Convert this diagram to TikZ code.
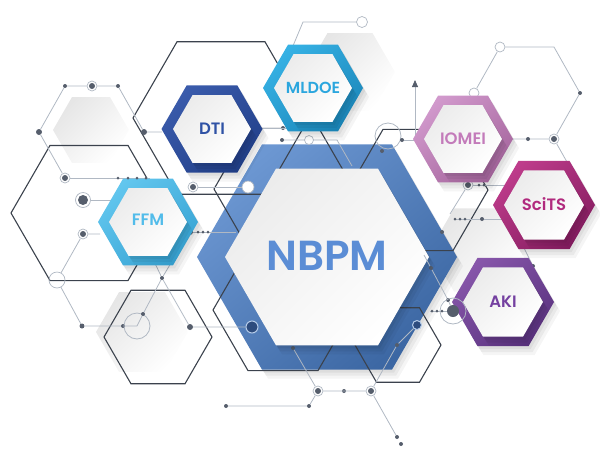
\documentclass[tikz,border=0pt]{standalone}
\usepackage{fontspec}
\setmainfont{Poppins}[BoldFont={* SemiBold}]
\usetikzlibrary{shapes.geometric,arrows.meta,shadows}
\definecolor{linegray}{HTML}{3B424D}
\definecolor{wiregray}{HTML}{B0B8C3}
\definecolor{dotgray}{HTML}{565E6C}
\definecolor{navy}{HTML}{2D4C7E}
\definecolor{nbpmA}{HTML}{6C97D2}
\definecolor{nbpmB}{HTML}{3C67A3}
\definecolor{nbpmT}{HTML}{5B8DD5}
\definecolor{dtiA}{HTML}{3A5BAB}
\definecolor{dtiB}{HTML}{22408A}
\definecolor{dtiT}{HTML}{2F52A5}
\definecolor{mldoeA}{HTML}{36B1E4}
\definecolor{mldoeB}{HTML}{1C88BB}
\definecolor{mldoeT}{HTML}{2BA6DE}
\definecolor{ffmA}{HTML}{62C6EE}
\definecolor{ffmB}{HTML}{38A4D4}
\definecolor{ffmT}{HTML}{52BCEA}
\definecolor{iomeiA}{HTML}{D199CC}
\definecolor{iomeiB}{HTML}{A5659D}
\definecolor{iomeiT}{HTML}{C37BBA}
\definecolor{scitsA}{HTML}{BE3C8B}
\definecolor{scitsB}{HTML}{861D61}
\definecolor{scitsT}{HTML}{B12A7E}
\definecolor{akiA}{HTML}{8756AA}
\definecolor{akiB}{HTML}{5B3380}
\definecolor{akiT}{HTML}{7440A0}
\begin{document}
\begin{tikzpicture}[x=1pt, y=-1pt]
\tikzstyle{hexa} = [regular polygon, regular polygon sides=6, inner sep=0pt, outer sep=0pt]
\tikzstyle{outline} = [hexa, draw=linegray, line width=1.1pt]
\tikzstyle{pale} = [hexa, top color=gray!20, bottom color=white, shading angle=45]
\tikzstyle{soft} = [general shadow={fill=black, opacity=.05, shadow xshift=2pt, shadow yshift=-3pt}, general shadow={fill=black, opacity=.05, shadow xshift=4pt, shadow yshift=-6pt}, general shadow={fill=black, opacity=.04, shadow xshift=6pt, shadow yshift=-9pt}]
\tikzstyle{face} = [hexa, top color=gray!15, bottom color=white, shading angle=45, soft]
\tikzstyle{wire} = [draw=wiregray, line width=.8pt]
\tikzstyle{dot} = [circle, fill=dotgray, inner sep=0pt, minimum size=4pt]
\tikzstyle{tiny} = [circle, fill=dotgray, inner sep=0pt, minimum size=3pt]
\tikzstyle{ringdot} = [circle, draw=wiregray, fill=white, line width=.7pt, inner sep=0pt, minimum size=10pt, path picture={\fill[dotgray] (path picture bounding box.center) circle (3pt);}]
\tikzstyle{opencirc} = [circle, draw=wiregray, fill=white, line width=.7pt, inner sep=0pt, minimum size=9pt]
\tikzstyle{bigcirc} = [circle, draw=wiregray, line width=.8pt, inner sep=0pt, minimum size=26pt]
\tikzstyle{navydot} = [circle, fill=navy, draw=nbpmA!50!white, line width=1pt, inner sep=0pt, minimum size=12pt]
\tikzstyle{lbl} = [font=\bfseries\fontsize{16.5}{18}\selectfont]
\useasboundingbox (0,0) rectangle (600,456);

\node[pale, minimum size=76pt] (p1) at (91,130) {};
\node[pale, minimum size=92pt] (p2) at (142,332) {};
\node[pale, minimum size=90pt] (p3) at (350,72) {};
\node[pale, minimum size=96pt] (p4) at (478,250) {};

\node[hexa, minimum size=260pt, top color=nbpmA, bottom color=nbpmB, shading angle=40, soft] (nbpm) at (327,257) {};

\node[outline, minimum size=176pt] (hA) at (221,118) {};
\node[outline, minimum size=156pt] (hB) at (89,213) {};
\node[outline, minimum size=108pt] (hC) at (158,337) {};
\node[outline, minimum size=140pt] (hD) at (283,310) {};
\node[outline, minimum size=140pt] (hG) at (284,189) {};
\node[outline, minimum size=140pt] (hH) at (418,190) {};
\node[outline, minimum size=86pt] (hE) at (398,345) {};

\node[dot] (l1) at (65,86) {};
\node[ringdot] (l2) at (92,86) {};
\node[dot] (l3) at (118,86) {};
\node[dot, minimum size=6pt] (l4) at (39,132) {};
\node[dot, minimum size=6pt] (l5) at (144,132) {};
\node[ringdot] (l6) at (65,178) {};
\coordinate (l7) at (162,132);
\coordinate (l8) at (150,178);
\draw[wire] (l6) -- (l4) -- (l1) -- (l2) -- (l3) -- (l5) -- (l7);
\draw[wire] (l6) -- (l8);
\node[ringdot, minimum size=15pt, path picture={\fill[dotgray] (path picture bounding box.center) circle (5pt);}] (l9) at (83,200) {};
\node[opencirc] (l10) at (117,200) {};
\draw[wire] (l9) -- (l10);
\node[ringdot] (l11) at (83,234) {};
\coordinate (l12) at (100,234);
\node[opencirc, fill=none, minimum size=16pt] (l13) at (57,280) {};
\node[dot, minimum size=5pt] (l14) at (82,326) {};
\node[dot] (l15) at (123,326) {};
\node[bigcirc] (l16) at (137,326) {};
\draw[wire] (l12) -- (l11) -- (l13) -- (l14) -- (l15) -- (l16.center);
\coordinate (l17) at (151,255);
\coordinate (l18) at (177,253);
\node[dot] (l19) at (162,278) {};
\node[dot] (l20) at (143,314) {};
\node[dot, minimum size=6pt] (l21) at (190,327) {};
\node[navydot] (l22) at (252,327) {};
\draw[wire] (l17) -- (l19) -- (l21) -- (l22);
\draw[wire] (l18) -- (l19) -- (l20) -- (l16.center);
\node[dot, minimum size=6pt] (l23) at (190,232) {};
\coordinate (l24) at (236,232);
\draw[wire] (l23) -- (l24);
\foreach \x in {198,203,208} \node[tiny] (t\x) at (\x,232) {};

\node[ringdot] (m1) at (193,187) {};
\node[opencirc, minimum size=12pt] (m2) at (248,187) {};
\draw[wire] (m1) -- (m2);
\coordinate (m3) at (262,128);
\coordinate (m4) at (300,128);
\node[dot] (m5) at (283,128) {};
\draw[wire] (m3) -- (m4);
\node[dot] (m6) at (282,140) {};
\node[opencirc] (m7) at (309,140) {};
\coordinate (m8) at (337,140);
\coordinate (m9) at (352,166);
\draw[wire] (m6) -- (m7) -- (m8) -- (m9);
\coordinate (m10) at (272,96);
\coordinate (m11) at (303,22);
\node[opencirc, minimum size=11pt] (m12) at (362,22) {};
\draw[wire] (m10) -- (m11) -- (m12);
\coordinate (m14) at (415,138);
\coordinate (m15) at (415,80);
\draw[wire, -{Triangle[length=7pt, width=6pt, color=dotgray]}] (m14) -- (m15);
\node[bigcirc] (m16) at (388,136) {};
\node[dot] (m17) at (402,140) {};
\coordinate (m18) at (414,140);
\draw[wire] (m17) -- (m18);
\node[dot] (m19) at (382,151) {};

\node[opencirc, minimum size=10pt] (r1) at (500,47) {};
\node[dot] (r2) at (580,93) {};
\node[ringdot] (r3) at (554,139) {};
\node[dot] (r4) at (528,139) {};
\node[opencirc, minimum size=10pt] (r5) at (474,93) {};
\coordinate (r6) at (554,47);
\coordinate (r7) at (510,139);
\coordinate (r8) at (464,110);
\draw[wire] (r8) -- (r5) -- (r1) -- (r6) -- (r2) -- (r3) -- (r4) -- (r7);
\node[dot] (r9) at (580,185) {};
\node[dot] (r10) at (584,192) {};
\draw[wire] (r3) -- (r9);
\node[ringdot] (r11) at (468,185) {};
\coordinate (r12) at (506,185);
\coordinate (r13) at (450,214);
\draw[wire] (r11) -- (r12);
\draw[wire] (r11) -- (r13);
\foreach \x in {479,484} \node[tiny] (u\x) at (\x,185) {};
\coordinate (r16) at (455,219);
\node[dot] (r14) at (482,219) {};
\coordinate (r15) at (512,219);
\draw[wire] (r16) -- (r14) -- (r15);
\foreach \x in {455,460,465} \node[tiny] (v\x) at (\x,219) {};
\coordinate (r18) at (522,244);
\node[dot] (r17) at (533,266) {};
\draw[wire] (r18) -- (r17);
\coordinate (r21) at (424,255);
\node[dot] (r20) at (431,268) {};
\node[dot] (r19) at (448,300) {};
\node[dot] (r22) at (442,232) {};

\node[dot] (b1) at (226,406) {};
\node[dot] (b2) at (309,406) {};
\node[ringdot] (b3) at (318,391) {};
\node[dot] (b4) at (344,391) {};
\node[ringdot] (b5) at (371,391) {};
\node[dot] (b6) at (293,348) {};
\node[dot] (b7) at (397,345) {};
\node[navydot, minimum size=9pt] (b8) at (417,325) {};
\node[dot] (b9) at (397,437) {};
\node[dot] (b10) at (401,444) {};
\draw[wire] (b1) -- (b2) -- (b3) -- (b5);
\draw[wire] (b3) -- (b6);
\draw[wire] (b5) -- (b7) -- (b8);
\draw[wire] (b5) -- (b9);

\node[hexa, minimum size=101pt, top color=dtiA, bottom color=dtiB, shading angle=40, soft] (dti) at (212,129) {};
\node[face, minimum size=78pt] (dti-in) at (212,129) {};
\node[hexa, minimum size=100pt, top color=mldoeA, bottom color=mldoeB, shading angle=40, soft] (mldoe) at (313,88) {};
\node[face, minimum size=78pt] (mldoe-in) at (313,88) {};
\node[hexa, minimum size=100pt, top color=ffmA, bottom color=ffmB, shading angle=40, soft] (ffm) at (148,222) {};
\node[face, minimum size=78pt] (ffm-in) at (148,222) {};
\node[hexa, minimum size=100pt, top color=iomeiA, bottom color=iomeiB, shading angle=40, soft] (iomei) at (463,139) {};
\node[face, minimum size=78pt] (iomei-in) at (463,139) {};
\node[hexa, minimum size=102pt, top color=scitsA, bottom color=scitsB, shading angle=40, soft] (scits) at (544,205) {};
\node[face, minimum size=80pt] (scits-in) at (544,205) {};
\node[hexa, minimum size=102pt, top color=akiA, bottom color=akiB, shading angle=40, soft] (aki) at (503,302) {};
\node[face, minimum size=80pt] (aki-in) at (503,302) {};
\node[face, minimum size=204pt] (nbpm-in) at (327,257) {};

\foreach \x in {118,128,137,146} \node[tiny] (f\x) at (\x,178) {};
\node[circle, draw=wiregray, line width=.8pt, inner sep=0pt, minimum size=26pt] (r23) at (453,311) {};
\node[circle, fill=dotgray, inner sep=0pt, minimum size=12pt] (r24) at (453,311) {};
\coordinate (r25) at (430,311);
\draw[wire] (r25) -- (r24);
\draw[wire] (r21) -- (r20) -- (r19) -- (r24);
\foreach \x in {432,437,442} \node[tiny] (w\x) at (\x,311) {};

\node[lbl, text=dtiT] (dti-t) at (212,129) {DTI};
\node[lbl, text=mldoeT, font=\bfseries\fontsize{16}{18}\selectfont] (mldoe-t) at (313,88) {MLDOE};
\node[lbl, text=ffmT] (ffm-t) at (148,220) {FFM};
\node[lbl, text=iomeiT] (iomei-t) at (463,139) {IOMEI};
\node[lbl, text=scitsT] (scits-t) at (544,204) {SciTS};
\node[lbl, text=akiT] (aki-t) at (503,302) {AKI};
\node[text=nbpmT, font=\bfseries\fontsize{42}{44}\selectfont] (nbpm-t) at (327,256) {NBPM};
\end{tikzpicture}
\end{document}
